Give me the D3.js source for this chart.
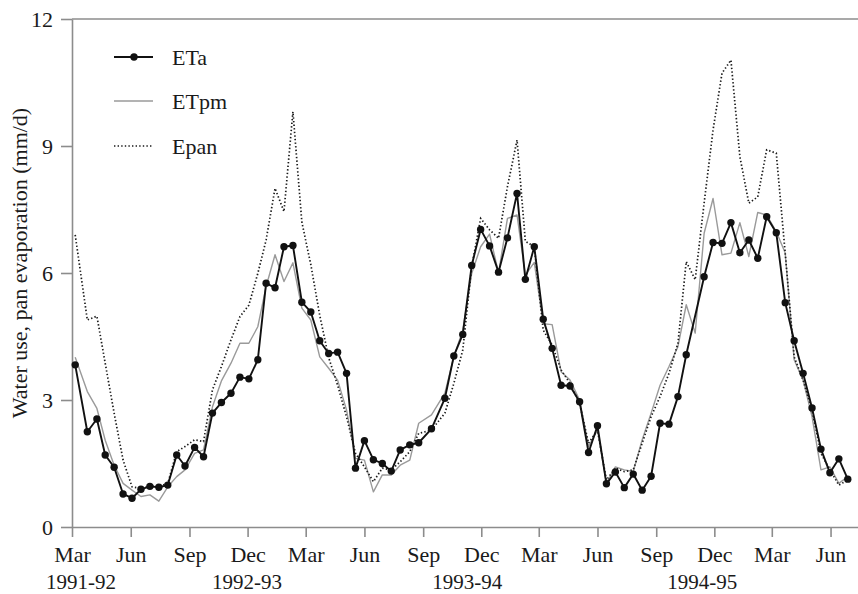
<!DOCTYPE html>
<html>
<head>
<meta charset="utf-8">
<script src="https://cdn.jsdelivr.net/npm/d3@7"></script>
<style>
  html, body { margin: 0; padding: 0; background: #fff; }
  svg { display: block; }
  svg text { font-family: "Liberation Serif", "DejaVu Serif", "Times New Roman", Times, serif !important; fill: #1a1a1a; }
</style>
</head>
<body>
<script>
// ---- data ----
// sampling day: days since 1 March 1991
const sampleDay = [5,24,39,52,66,80,94,108,122,136,
  150,164,177,192,206,220,234,249,263,277,
  291,304,318,332,346,360,374,388,402,416,
  430,444,458,472,486,500,514,529,543,563,
  584,598,612,626,640,654,668,682,697,710,
  724,738,752,766,780,795,809,823,837,851,
  865,879,893,907,921,935,949,962,976,990,
  1004,1018,1032,1046,1060,1074,1088,1103,1117,1131,
  1145,1159,1173,1187,1201,1215];

const ETa = [3.83,2.25,2.55,1.70,1.41,0.78,0.68,0.89,0.96,0.94,
  0.99,1.70,1.44,1.88,1.66,2.69,2.94,3.16,3.54,3.50,
  3.95,5.76,5.65,6.62,6.65,5.31,5.08,4.40,4.10,4.13,
  3.63,1.39,2.04,1.59,1.50,1.32,1.82,1.94,1.99,2.32,
  3.04,4.04,4.55,6.18,7.03,6.64,6.02,6.83,7.88,5.85,
  6.62,4.91,4.22,3.35,3.33,2.96,1.76,2.39,1.02,1.30,
  0.93,1.25,0.87,1.20,2.45,2.43,3.08,4.07,null,5.91,
  6.72,6.70,7.19,6.48,6.78,6.35,7.33,6.95,5.30,4.40,
  3.63,2.81,1.84,1.28,1.61,1.13];

const ETpm = [4.01,3.20,2.80,2.05,1.46,1.03,0.87,0.72,0.76,0.61,
  0.95,1.19,1.35,1.74,1.82,2.84,3.45,3.87,4.34,4.34,
  4.73,5.68,6.43,5.80,6.24,5.17,4.89,4.02,3.75,3.47,
  2.76,1.62,1.58,0.83,1.23,1.23,1.46,1.58,2.45,2.65,
  3.16,4.02,4.65,5.99,6.62,6.92,6.00,7.29,7.37,5.95,
  6.25,4.80,4.78,3.67,3.47,3.00,1.90,2.29,1.03,1.42,
  1.35,1.31,2.06,2.69,3.35,3.79,4.26,5.25,4.58,6.94,
  7.76,6.43,6.47,7.19,6.39,7.43,7.37,6.98,6.47,3.95,
  3.47,2.61,1.35,1.42,1.03,1.19];

const Epan = [6.90,4.89,4.98,3.87,2.69,1.58,0.95,0.91,0.96,0.96,
  1.03,1.78,1.90,2.06,2.02,3.24,3.79,4.42,4.97,5.24,
  5.99,6.78,8.00,7.45,9.81,7.20,6.20,5.00,4.00,3.35,
  2.60,1.74,1.42,1.07,1.39,1.35,1.54,1.78,2.21,2.29,
  2.69,3.39,4.18,6.15,7.29,7.02,6.82,8.04,9.14,6.75,
  6.62,4.65,4.30,3.71,3.39,2.92,1.98,2.29,1.11,1.39,
  1.31,1.35,1.98,2.61,3.08,3.63,4.34,6.27,5.84,7.65,
  9.38,10.72,11.03,8.75,7.65,7.80,8.91,8.83,6.47,4.02,
  3.47,2.76,1.74,1.35,0.99,1.11];

const yTicks = [0, 3, 6, 9, 12];
const monthNames = ["Jan","Feb","Mar","Apr","May","Jun","Jul","Aug","Sep","Oct","Nov","Dec"];
const seasonLabels = ["1991-92", "1992-93", "1993-94", "1994-95"];
const seasonLabelDay = [14, 274, 619, 987];   // days since 1 March 1991
const seriesNames = ["ETa", "ETpm", "Epan"];

// ---- chart ----
const W = 858, H = 594;
const FONT = '"Liberation Serif", "DejaVu Serif", "Times New Roman", Times, serif';
const margin = {left: 72, top: 19, right: 0, bottom: 67};
const origin = Date.UTC(1991, 2, 1);
const dayMs = 86400000;
const toDate = d => new Date(origin + d * dayMs);

const svg = d3.select("body").append("svg")
  .attr("width", W).attr("height", H)
  .attr("font-family", FONT);
svg.append("rect").attr("width", W).attr("height", H).attr("fill", "#fff");

const x = d3.scaleUtc()
  .domain([toDate(0), toDate(1231)])
  .range([margin.left, W - margin.right]);
const y = d3.scaleLinear().domain([0, 12]).range([H - margin.bottom, margin.top]);

const axisColor = "#8c8c8c";

// top frame line
svg.append("line")
  .attr("x1", x.range()[0]).attr("x2", x.range()[1])
  .attr("y1", y(12)).attr("y2", y(12))
  .attr("stroke", axisColor).attr("stroke-width", 1.6);

// y axis
const yAxis = svg.append("g")
  .attr("transform", `translate(${margin.left},0)`)
  .call(d3.axisLeft(y).tickValues(yTicks).tickSize(11).tickPadding(8).tickSizeOuter(0));
yAxis.attr("font-family", FONT);
yAxis.select(".domain").attr("stroke", axisColor).attr("stroke-width", 1.6);
yAxis.selectAll(".tick line").attr("stroke", axisColor).attr("stroke-width", 1.6);
yAxis.selectAll(".tick text").attr("font-size", 22).attr("fill", "#1a1a1a")
  .style("font-family", FONT);

// x axis
const xTickDates = d3.utcMonths(toDate(0), toDate(1232), 3);
const xAxis = svg.append("g")
  .attr("transform", `translate(0,${y(0)})`)
  .call(d3.axisBottom(x).tickValues(xTickDates)
    .tickFormat(d => monthNames[d.getUTCMonth()])
    .tickSize(10).tickPadding(9).tickSizeOuter(0));
xAxis.attr("font-family", FONT);
xAxis.select(".domain").attr("stroke", axisColor).attr("stroke-width", 1.6);
xAxis.selectAll(".tick line").attr("stroke", axisColor).attr("stroke-width", 1.6);
xAxis.selectAll(".tick text").attr("font-size", 22).attr("fill", "#1a1a1a")
  .style("font-family", FONT);

// season labels
svg.append("g").selectAll("text")
  .data(seasonLabels)
  .join("text")
  .attr("x", (d, i) => x(toDate(seasonLabelDay[i])))
  .attr("y", 589)
  .attr("text-anchor", "middle")
  .attr("font-size", 21)
  .style("font-family", FONT)
  .text(d => d);

// y label
svg.append("text")
  .attr("transform", `translate(26.5,263) rotate(-90)`)
  .attr("text-anchor", "middle")
  .attr("font-size", 22)
  .style("font-family", FONT)
  .text("Water use, pan evaporation (mm/d)");

// series data
const rows = sampleDay.map((d, i) => ({date: toDate(d), ETa: ETa[i], ETpm: ETpm[i], Epan: Epan[i]}));

const lineFor = key => d3.line()
  .x(d => x(d.date))
  .y(d => y(d[key]));

const plot = svg.append("g");

plot.append("path")
  .datum(rows)
  .attr("d", lineFor("ETpm"))
  .attr("fill", "none").attr("stroke", "#9a9a9a").attr("stroke-width", 1.4)
  .attr("stroke-linejoin", "round");

plot.append("path")
  .datum(rows)
  .attr("d", lineFor("Epan"))
  .attr("fill", "none").attr("stroke", "#1a1a1a").attr("stroke-width", 1.7)
  .attr("stroke-dasharray", "1.4,2.2");

const etaRows = rows.filter(d => d.ETa != null);
plot.append("path")
  .datum(etaRows)
  .attr("d", lineFor("ETa"))
  .attr("fill", "none").attr("stroke", "#111").attr("stroke-width", 1.9)
  .attr("stroke-linejoin", "round");

plot.selectAll("circle.eta")
  .data(etaRows)
  .join("circle")
  .attr("class", "eta")
  .attr("cx", d => x(d.date))
  .attr("cy", d => y(d.ETa))
  .attr("r", 3.7)
  .attr("fill", "#111");

// legend
const legend = svg.append("g").attr("transform", "translate(114,0)");
const legY = [57, 101, 146];
seriesNames.forEach((name, i) => {
  const g = legend.append("g").attr("transform", `translate(0,${legY[i]})`);
  const ln = g.append("line").attr("x1", 0).attr("x2", 39).attr("y1", 0).attr("y2", 0);
  if (name === "ETa") {
    ln.attr("stroke", "#111").attr("stroke-width", 1.9);
    g.append("circle").attr("cx", 20).attr("cy", 0).attr("r", 3.7).attr("fill", "#111");
  } else if (name === "ETpm") {
    ln.attr("stroke", "#9a9a9a").attr("stroke-width", 1.4);
  } else {
    ln.attr("stroke", "#1a1a1a").attr("stroke-width", 1.7).attr("stroke-dasharray", "1.4,2.2");
  }
  g.append("text").attr("x", 58).attr("y", 7.5).attr("font-size", 22)
    .style("font-family", FONT).text(name);
});
</script>
</body>
</html>
